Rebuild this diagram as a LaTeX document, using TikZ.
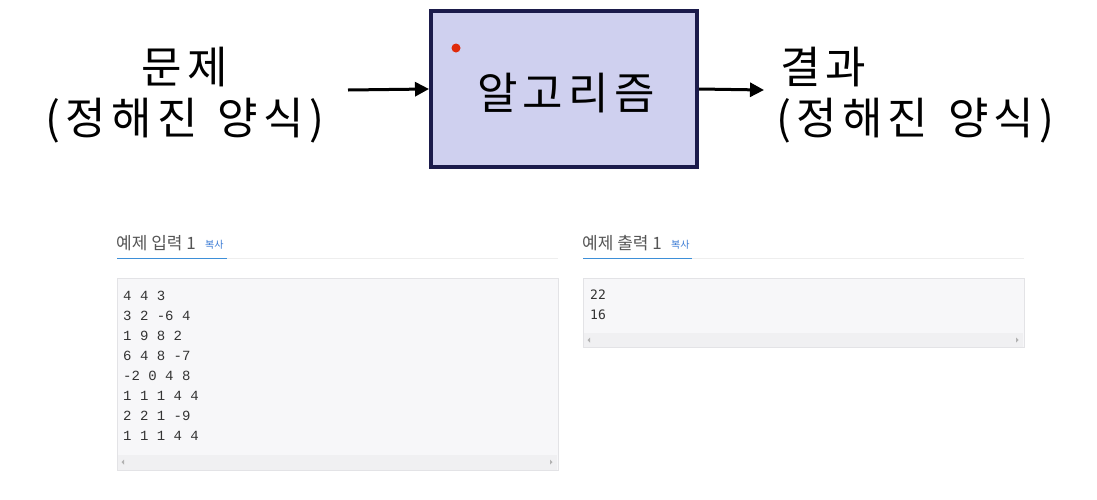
\documentclass[tikz,border=0pt]{standalone}
\usepackage{fontspec}
\setmainfont{Noto Sans CJK KR}
\newfontfamily\kor{Noto Sans CJK KR}
\newfontfamily\korwide[LetterSpace=12]{Noto Sans CJK KR}
\newfontfamily\inmono{Liberation Mono}
\newfontfamily\outmono{DejaVu Sans Mono}
\usetikzlibrary{arrows.meta}
\definecolor{boxfill}{HTML}{CFD0EF}
\definecolor{boxline}{HTML}{1B1B4B}
\definecolor{dotred}{HTML}{E02A0A}
\definecolor{codebg}{HTML}{F7F7F9}
\definecolor{codeline}{HTML}{E3E3E6}
\definecolor{headgray}{HTML}{555555}
\definecolor{codetxt}{HTML}{333333}
\definecolor{linkblue}{HTML}{3A7BD5}
\definecolor{tabblue}{HTML}{3D8FD8}
\definecolor{faint}{HTML}{EEEEEE}
\definecolor{scroll}{HTML}{F0F0F2}
\tikzset{
  bigtext/.style={inner sep=0pt, font=\korwide\fontsize{44}{50}\selectfont, text=black},
  flowarrow/.style={line width=3pt, -{Triangle[length=14pt,width=14pt]}},
  head/.style={inner sep=0pt, anchor=base west, font=\kor\fontsize{17}{20}\selectfont, text=headgray},
  copylink/.style={inner sep=0pt, anchor=base west, font=\kor\fontsize{10}{11}\selectfont, text=linkblue},
  codebox/.style={draw=codeline, fill=codebg, line width=0.8pt, anchor=north west, inner sep=0pt},
  codetext/.style={inner sep=0pt, anchor=north west, align=left, text=codetxt},
  sarrow/.style={fill=gray!60, draw=none},
}
\newcommand{\wsp}{\hspace{0.45em}}
\begin{document}
\begin{tikzpicture}[x=1pt,y=-1pt]
\useasboundingbox[fill=white] (0,0) rectangle (1097,499);
% main box
\node[draw=boxline, fill=boxfill, line width=4pt, minimum width=266pt, minimum height=156pt, inner sep=0pt] (alg) at (564,89) {};
\node[bigtext] (algt) at (566,93) {알고리즘};
\fill[dotred] (456,48) circle (4.5pt);
% left texts
\node[bigtext] (prob) at (185,67) {문제};
\node[bigtext] (probf) at (185,121) {(정해진\wsp 양식)};
% right texts
\node[bigtext, anchor=west] (res) at (780,67) {결과};
\node[bigtext, anchor=west] (resf) at (776,121) {(정해진\wsp 양식)};
% arrows
\coordinate (inpt) at (348,90);
\coordinate (outpt) at (764,90);
\draw[flowarrow] (inpt) -- (alg.west);
\draw[flowarrow] (alg.east) -- (outpt);
% left sample panel
\node[head] (inhead) at (116,249) {예제 입력 1};
\node[copylink] (incopy) at (205,248) {복사};
\draw[faint, line width=0.8pt] (117,258.5) -- (558,258.5);
\draw[tabblue, line width=1.6pt] (117,258.5) -- (227,258.5);
\node[codebox, minimum width=441pt, minimum height=192pt] (inbox) at (117,278) {};
\fill[scroll] (118,455) rectangle (557,469.5);
\node[codetext, font=\inmono\fontsize{14}{20}\selectfont] (intext) at (123,290.5) {4 4 3\\3 2 -6 4\\1 9 8 2\\6 4 8 -7\\-2 0 4 8\\1 1 1 4 4\\2 2 1 -9\\1 1 1 4 4};
\fill[sarrow] (121.5,462) -- (124,459.5) -- (124,464.5) -- cycle;
\fill[sarrow] (552.5,462) -- (550,459.5) -- (550,464.5) -- cycle;
% right sample panel
\node[head] (outhead) at (582,249) {예제 출력 1};
\node[copylink] (outcopy) at (671,248) {복사};
\draw[faint, line width=0.8pt] (583,258.5) -- (1024,258.5);
\draw[tabblue, line width=1.6pt] (583,258.5) -- (692,258.5);
\node[codebox, minimum width=441pt, minimum height=69pt] (outbox) at (583,278) {};
\fill[scroll] (584,333) rectangle (1023,346.5);
\node[codetext, font=\outmono\fontsize{13}{20}\selectfont] (outtext) at (590,290) {22\\16};
\fill[sarrow] (587.5,340) -- (590,337.5) -- (590,342.5) -- cycle;
\fill[sarrow] (1018.5,340) -- (1016,337.5) -- (1016,342.5) -- cycle;
\end{tikzpicture}
\end{document}
